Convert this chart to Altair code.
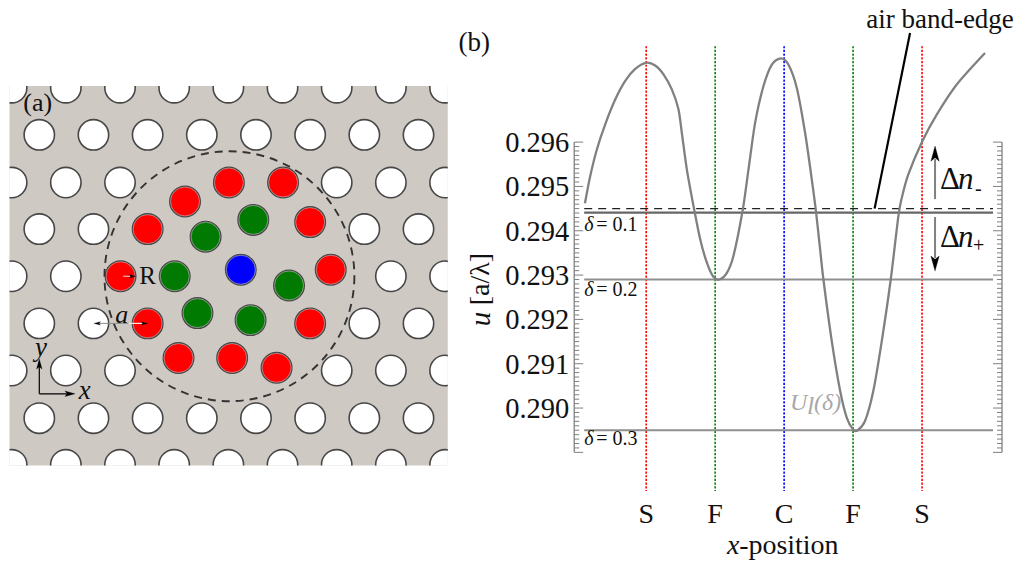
import altair as alt
import pandas as pd

SERIF = "Liberation Serif"

# ---------- panel (a): photonic-crystal lattice, in units of the lattice constant a ----------
hole_rows = {
    0.03: [0.04, 1.04, 2.04, 3.04, 4.04, 5.04, 6.04, 7.04, 8.04],
    0.90: [0.55, 1.55, 2.55, 3.55, 4.55, 5.55, 6.55, 7.55],
    1.78: [0.04, 1.04, 2.04, 6.04, 7.04, 8.04],
    2.64: [0.55, 1.55, 6.55, 7.55],
    3.51: [0.04, 1.04, 7.04, 8.04],
    4.38: [0.55, 1.55, 6.55, 7.55],
    5.25: [0.04, 1.04, 2.04, 6.04, 7.04, 8.04],
    6.13: [0.55, 1.55, 2.55, 3.55, 4.55, 5.55, 6.55, 7.55],
    6.99: [0.04, 1.04, 2.04, 3.04, 4.04, 5.04, 6.04, 7.04, 8.04],
}
red_x = [4.05, 5.05, 3.24, 2.55, 5.55, 2.05, 5.93, 2.55, 5.55, 3.12, 4.11, 4.93]
red_y = [1.78, 1.78, 2.13, 2.64, 2.51, 3.51, 3.39, 4.38, 4.38, 5.02, 5.02, 5.20]
green_x = [4.50, 3.62, 3.05, 5.16, 3.47, 4.45]
green_y = [2.47, 2.78, 3.51, 3.68, 4.19, 4.32]
blue_x = [4.27]
blue_y = [3.39]
ring_x = [4.06]
ring_y = [3.51]

PA_W, PA_H = 438.5, 379.5
UNIT = 54.2
sx = alt.Scale(domain=[0, PA_W / UNIT], nice=False, zero=False)
sy = alt.Scale(domain=[PA_H / UNIT, 0], nice=False, zero=False)


def ax(field="x"):
    return alt.X(f"{field}:Q", scale=sx, axis=None)


def ay(field="y"):
    return alt.Y(f"{field}:Q", scale=sy, axis=None)


holes = pd.DataFrame([{"x": x, "y": y} for y, xs in hole_rows.items() for x in xs])
SIZE = (2 * 15.2) ** 2
INNER = (2 * 14.5) ** 2


def dots(xs, ys, color):
    return alt.Chart(pd.DataFrame({"x": xs, "y": ys})).mark_point(
        filled=True, fill=color, stroke="#474747", strokeWidth=1.6, size=SIZE, opacity=1, clip=True
    ).encode(x=ax(), y=ay())


def inner_ring(xs, ys):
    return alt.Chart(pd.DataFrame({"x": xs, "y": ys})).mark_point(
        filled=False, stroke="#d8d8d8", strokeWidth=0.5, size=INNER, opacity=1
    ).encode(x=ax(), y=ay())


def pa_seg(x1, y1, x2, y2, color="#000000", w=1.2):
    return alt.Chart(pd.DataFrame({"x": [x1, x2], "y": [y1, y2]})).mark_line(
        color=color, strokeWidth=w).encode(x=ax(), y=ay())


HEAD = "M 0 -1 L 0.55 1 L 0 0.55 L -0.55 1 Z"


def pa_head(x, y, angle, size=90):
    return alt.Chart(pd.DataFrame({"x": [x], "y": [y]})).mark_point(
        shape=HEAD, filled=True, fill="#000000", stroke="#000000", strokeWidth=0.3,
        size=size, angle=angle, opacity=1).encode(x=ax(), y=ay())


def pa_text(x, y, t, size=24, italic=False):
    return alt.Chart(pd.DataFrame({"x": [x], "y": [y], "t": [t]})).mark_text(
        font=SERIF, fontSize=size, fontStyle="italic" if italic else "normal", color="#111111"
    ).encode(x=ax(), y=ay(), text="t:N")


panel_a = alt.layer(
    dots(holes["x"].tolist(), holes["y"].tolist(), "#ffffff"),
    dots(red_x, red_y, "#ff0000"),
    dots(green_x, green_y, "#007a00"),
    dots(blue_x, blue_y, "#0000ff"),
    inner_ring(red_x + green_x + blue_x, red_y + green_y + blue_y),
    alt.Chart(pd.DataFrame({"x": ring_x, "y": ring_y})).mark_point(
        filled=False, stroke="#333333", strokeWidth=1.9, strokeDash=[8, 6],
        size=250 * 250, opacity=1, clip=True).encode(x=ax(), y=ay()),
    pa_seg(2.1, 3.51, 2.3, 3.51, "#f4dcdc", 1),
    pa_seg(1.6, 4.38, 2.2, 4.38, "#8a8a8a", 1),
    pa_seg(2.2, 4.38, 2.5, 4.38, "#f4e4e4", 1.2),
    pa_head(2.27, 3.51, 90, 40),
    pa_head(1.62, 4.38, 270, 40),
    pa_head(2.49, 4.38, 90, 40),
    pa_seg(0.55, 5.68, 0.55, 5.1),
    pa_seg(0.55, 5.68, 1.14, 5.68),
    pa_head(0.55, 5.13, 0, 100),
    pa_head(1.116, 5.68, 90, 100),
    pa_text(2.55, 3.51, "R", 25),
    pa_text(2.07, 4.23, "a", 26, True),
    pa_text(0.58, 4.84, "y", 27, True),
    pa_text(1.39, 5.62, "x", 27, True),
    pa_text(0.52, 0.32, "(a)", 26),
).properties(width=PA_W, height=PA_H,
             view=alt.ViewBackground(fill="#cfc9c4", stroke=None))

spacer = alt.Chart(pd.DataFrame({"v": [0]})).mark_point(opacity=0).encode(
    x=alt.value(10), y=alt.value(10)
).properties(width=PA_W, height=77, view=alt.ViewBackground(stroke=None))

# ---------- panel (b): band-edge profile ----------
curve_x = [-2.888, -2.812, -2.714, -2.594, -2.449, -2.304, -2.159, -2.004, -1.870, -1.749,
           -1.628, -1.532, -1.483, -1.410, -1.314, -1.217, -1.120, -1.025, -0.938, -0.830,
           -0.735, -0.599, -0.517, -0.420, -0.300, -0.178, -0.048, 0.062, 0.184,
           0.304, 0.401, 0.464, 0.522, 0.570, 0.691, 0.812, 0.909, 1.004, 1.068,
           1.174, 1.294, 1.416, 1.546, 1.657, 1.706, 1.801, 2.004, 2.213, 2.503, 2.913]
curve_u = [.29462, .29523, .29584, .29640, .29696, .29738, .29765, .29779, .29773, .29753,
           .29719, .29674, .29621, .29538, .29456, .29381, .29328, .29296, .29290, .29305,
           .29343, .29448, .29538, .29644, .29726, .29775, .29789, .29775, .29722,
           .29621, .29516, .29441, .29358, .29290, .29151, .29039, .28978, .28951, .28950,
           .28971, .29039, .29151, .29290, .29433, .29474, .29527, .29602, .29662, .29730, .29801]
site_x = [-2, -1, 0, 1, 2]
site_label = ["S", "F", "C", "F", "S"]
site_color = ["#ff0000", "#008000", "#0000ff", "#008000", "#ff0000"]
tick_label_u = [0.296, 0.295, 0.294, 0.293, 0.292, 0.291, 0.290]
tick_label = ["0.296", "0.295", "0.294", "0.293", "0.292", "0.291", "0.290"]
band_u = [.29441, .29290, .28950]
band_color = ["#666666", "#8f8f8f", "#8f8f8f"]
band_width = [2.2, 2, 2]
band_label = ["0.1", "0.2", "0.3"]
air_edge_u = .29450

PB_L, PB_T, PB_W, PB_H = 456, 8, 560, 549
X0, XU = 784, 69
bx = alt.Scale(domain=[(PB_L - X0) / XU, (PB_L + PB_W - X0) / XU], nice=False, zero=False)
by = alt.Scale(domain=[0.28662, 0.29900], nice=False, zero=False)


def bX(field="x"):
    return alt.X(f"{field}:Q", scale=bx, axis=None)


def bY(field="y"):
    return alt.Y(f"{field}:Q", scale=by, axis=None)


def seg(x1, u1, x2, u2, color="#000000", w=1.0, dash=None):
    kw = {"strokeDash": dash} if dash else {}
    return alt.Chart(pd.DataFrame({"x": [x1, x2], "y": [u1, u2]})).mark_line(
        color=color, strokeWidth=w, **kw).encode(x=bX(), y=bY())


def txt(px, py, t, size=26, color="#111111", italic=False, align="center", angle=None):
    kw = {}
    if angle is not None:
        kw["angle"] = angle
    return alt.Chart(pd.DataFrame({"t": [t]})).mark_text(
        font=SERIF, fontSize=size, color=color, align=align, baseline="middle",
        fontStyle="italic" if italic else "normal", **kw
    ).encode(x=alt.value(px - PB_L), y=alt.value(py - PB_T), text="t:N")


def head(xv, u, angle, size=230):
    return alt.Chart(pd.DataFrame({"x": [xv], "y": [u]})).mark_point(
        shape=HEAD, filled=True, fill="#000000", stroke="#000000", strokeWidth=0.3,
        size=size, angle=angle, opacity=1).encode(x=bX(), y=bY())


def u_at(py):
    return 0.296 - (py - 141) / 44350


LEFT_AX = (574 - X0) / XU
RIGHT_AX = (1002 - X0) / XU
LINE_L = (584 - X0) / XU
LINE_R = (993 - X0) / XU
MAJOR = 9 / XU
MINOR = 5 / XU

minor_u = [round(0.296 - i * 0.0001, 4) for i in range(71)]
ticks = pd.DataFrame({"y": minor_u})
ticks["major"] = [(i % 10 == 0) for i in range(71)]
ticks["l1"] = LEFT_AX
ticks["l2"] = [LEFT_AX + (MAJOR if m else MINOR) for m in ticks["major"]]
ticks["r1"] = RIGHT_AX
ticks["r2"] = [RIGHT_AX - (MAJOR if m else MINOR) for m in ticks["major"]]

layers = []
TICK_C = "#808080"
layers.append(seg(LEFT_AX, 0.296, LEFT_AX, 0.289, TICK_C, 1.3))
layers.append(seg(RIGHT_AX, 0.296, RIGHT_AX, 0.289, TICK_C, 1.3))
layers.append(alt.Chart(ticks).mark_rule(color=TICK_C, strokeWidth=1).encode(
    x=bX("l1"), x2="l2:Q", y=bY()))
layers.append(alt.Chart(ticks).mark_rule(color=TICK_C, strokeWidth=1).encode(
    x=bX("r1"), x2="r2:Q", y=bY()))

for xv, c in zip(site_x, site_color):
    layers.append(seg(xv, u_at(45), xv, u_at(490), c, 1.6, [2.2, 1.5]))

layers.append(seg(LINE_L, air_edge_u, LINE_R, air_edge_u, "#222222", 1.3, [8, 6]))
for u, c, w in zip(band_u, band_color, band_width):
    layers.append(seg(LINE_L, u, LINE_R, u, c, w))

layers.append(alt.Chart(pd.DataFrame({"x": curve_x, "y": curve_u})).mark_line(
    color="#808080", strokeWidth=2.3, interpolate="cardinal", tension=0.2).encode(x=bX(), y=bY()))

layers.append(seg(1.826, .29846, 1.312, air_edge_u, "#000000", 2.2))

# delta-n arrows
AX_DN = (935 - X0) / XU
layers.append(seg(AX_DN, u_at(198), AX_DN, u_at(158), "#808080", 2))
layers.append(head(AX_DN, u_at(152.5), 0))
layers.append(seg(AX_DN, u_at(216), AX_DN, u_at(257), "#808080", 2))
layers.append(head(AX_DN, u_at(262.5), 180))

for u, t in zip(tick_label_u, tick_label):
    py = 141 + (0.296 - u) * 44350
    layers.append(txt(569, py + 1, t, 28.5, align="right"))

for py, t in zip([224, 289, 438], band_label):
    layers.append(txt(584, py, "δ", 20, italic=True, align="left"))
    layers.append(txt(596, py, "= " + t, 20, align="left"))

for xv, t in zip(site_x, site_label):
    layers.append(txt(X0 + XU * xv, 514, t, 28))

layers.append(txt(733, 545, "x", 28, italic=True, align="center"))
layers.append(txt(739, 545, "-position", 28, align="left"))
layers.append(txt(481, 318, "u", 29, italic=True, angle=270))
layers.append(txt(481, 278, "[a/λ]", 28, angle=270))
layers.append(txt(474, 42, "(b)", 27))
layers.append(txt(940, 18.5, "air band-edge", 27))
layers.append(txt(940, 179, "Δ", 31, align="left"))
layers.append(txt(958, 179, "n", 31, italic=True, align="left"))
layers.append(txt(975, 188, "-", 20, align="left"))
layers.append(txt(940, 237, "Δ", 31, align="left"))
layers.append(txt(958, 237, "n", 31, italic=True, align="left"))
layers.append(txt(973, 245, "+", 20, align="left"))
layers.append(txt(790, 402, "U", 24, "#a8a8a8", italic=True, align="left"))
layers.append(txt(807, 405, "l", 26, "#a8a8a8", italic=True, align="left"))
layers.append(txt(814, 402, "(δ)", 24, "#a8a8a8", italic=True, align="left"))

panel_b = alt.layer(*layers).properties(
    width=PB_W, height=PB_H, view=alt.ViewBackground(stroke=None))

left = alt.vconcat(spacer, panel_a, spacing=0)
chart = alt.hconcat(left, panel_b, spacing=8).properties(
    padding={"left": 1.5, "top": -3, "right": 0, "bottom": 0},
    background="#ffffff",
).configure_view(strokeWidth=0).configure_concat(spacing=0)

chart.save("out.html", embed_options={"renderer": "svg", "actions": False})
